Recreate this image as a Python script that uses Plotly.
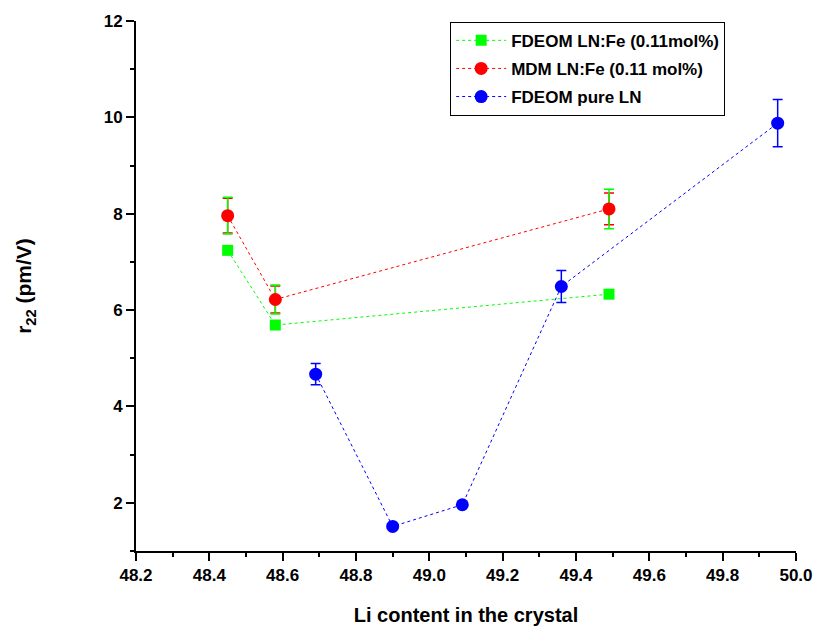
import plotly.graph_objects as go

# FDEOM measurements on Fe-doped LN (0.11 mol%)
fe_fdeom_li = [48.45, 48.58, 49.49]
fe_fdeom_r22 = [7.24, 5.69, 6.33]
fe_fdeom_err = [0.38, 0.30, 0.41]

# MDM measurements on Fe-doped LN (0.11 mol%)
fe_mdm_li = [48.45, 48.58, 49.49]
fe_mdm_r22 = [7.96, 6.22, 8.10]
fe_mdm_err = [0.36, 0.28, 0.33]

# FDEOM measurements on pure LN
pure_li = [48.69, 48.90, 49.09, 49.36, 49.95]
pure_r22 = [4.67, 1.51, 1.96, 6.49, 9.88]
pure_err = [0.22, 0.0, 0.0, 0.33, 0.49]

# axis tick labels
x_ticks = [48.2, 48.4, 48.6, 48.8, 49.0, 49.2, 49.4, 49.6, 49.8, 50.0]
y_ticks = [2, 4, 6, 8, 10, 12]

GREEN = "#00ff00"
RED = "#ff0000"
BLUE = "#0000ff"
FONT = "Arial, Liberation Sans, sans-serif"

fig = go.Figure()

# error bars only (markers hidden)
fig.add_trace(go.Scatter(
    x=fe_mdm_li, y=fe_mdm_r22, mode="markers",
    marker=dict(size=1, color="rgba(0,0,0,0)"),
    error_y=dict(type="data", array=fe_mdm_err, color=RED, thickness=1.5, width=5),
    showlegend=False, hoverinfo="skip"))
fig.add_trace(go.Scatter(
    x=fe_mdm_li, y=fe_mdm_r22, mode="markers",
    marker=dict(size=1, color="rgba(0,0,0,0)"),
    error_y=dict(type="data", array=fe_fdeom_err, color=GREEN, thickness=1.5, width=5),
    showlegend=False, hoverinfo="skip"))

fig.add_trace(go.Scatter(
    x=fe_fdeom_li, y=fe_fdeom_r22, mode="lines+markers",
    name="<b>FDEOM LN:Fe (0.11mol%)</b>", legendgroup="a",
    line=dict(color=GREEN, width=1, dash="dot"),
    marker=dict(symbol="square", size=11, color=GREEN)))
fig.add_trace(go.Scatter(
    x=fe_mdm_li, y=fe_mdm_r22, mode="lines+markers",
    name="<b>MDM LN:Fe (0.11 mol%)</b>", legendgroup="b",
    line=dict(color=RED, width=1, dash="dot"),
    marker=dict(symbol="circle", size=13, color=RED)))
fig.add_trace(go.Scatter(
    x=pure_li, y=pure_r22, mode="lines+markers",
    name="<b>FDEOM pure LN</b>", legendgroup="c",
    line=dict(color=BLUE, width=1, dash="dot"),
    marker=dict(symbol="circle", size=13, color=BLUE),
    error_y=dict(type="data", array=pure_err, color=BLUE, thickness=1.5, width=5)))

axis_common = dict(
    showline=True, linecolor="black", linewidth=2,
    ticks="outside", ticklen=8, tickwidth=2, tickcolor="black",
    showgrid=False, zeroline=False, mirror=False,
    tickfont=dict(family=FONT, size=17, color="black"),
)

fig.update_xaxes(
    range=[48.2, 50.0],
    tickvals=x_ticks, ticktext=[f"<b>{v:.1f}</b>" for v in x_ticks],
    minor=dict(ticks="outside", ticklen=4, tickwidth=2, tickcolor="black", dtick=0.1, tick0=48.2),
    title=dict(text="<b>Li content in the crystal</b>", font=dict(family=FONT, size=20, color="black"), standoff=24),
    **axis_common)
fig.update_yaxes(
    range=[1, 12],
    tickvals=y_ticks, ticktext=[f"<b>{v}</b>" for v in y_ticks],
    minor=dict(ticks="outside", ticklen=4, tickwidth=2, tickcolor="black", dtick=1, tick0=1),
    title=dict(text="<b>r<sub>22</sub> (pm/V)</b>", font=dict(family=FONT, size=21, color="black"), standoff=66),
    **axis_common)

fig.update_layout(
    width=825, height=635,
    margin=dict(l=136, r=20, t=15, b=81),
    plot_bgcolor="white", paper_bgcolor="white",
    legend=dict(
        x=0.476, y=0.9985, xanchor="left", yanchor="top",
        bordercolor="black", borderwidth=1, bgcolor="white",
        font=dict(family=FONT, size=17, color="black"),
        traceorder="grouped", itemwidth=50, tracegroupgap=3),
)

fig.write_html("out.html")
